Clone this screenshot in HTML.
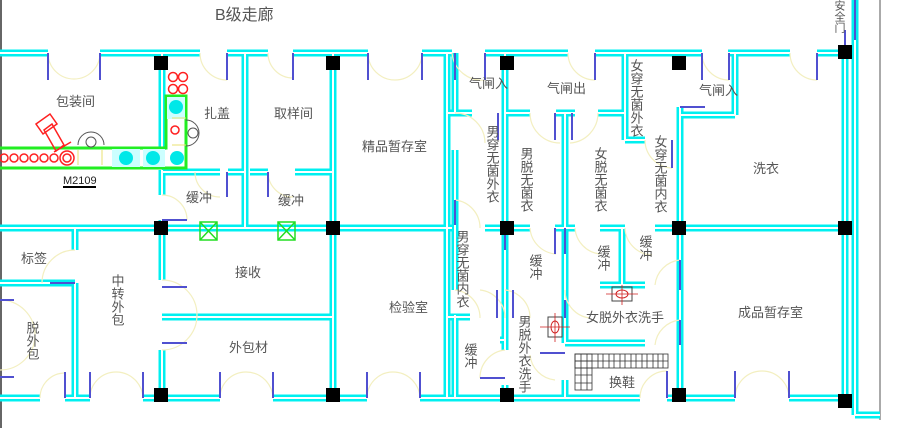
<!DOCTYPE html>
<html><head><meta charset="utf-8"><style>
html,body{margin:0;padding:0;background:#fff;}
svg{display:block;}
text{font-family:"Liberation Sans","Noto Sans CJK SC",sans-serif;fill:#555;font-size:13px;}
.v{writing-mode:tb;}
</style></head><body>
<svg width="900" height="428" viewBox="0 0 900 428" xmlns="http://www.w3.org/2000/svg">
<defs>
<g id="W" fill="none">
<path d="M0 53H48 M100 53H200 M227 53H268 M293 53H368 M422 53H452 M485 53H568 M595 53H702 M728 53H790 M817 53H840"/>
<path d="M0 228H452 M485 228H530 M555 228H575 M600 228H625 M655 228H850"/>
<path d="M0 398H40 M65 398H90 M143 398H220 M273 398H367 M420 398H640 M667 398H735 M789 398H850"/>
<path d="M162 53V150 M162 170V195 M162 220V280 M162 350V398"/>
<path d="M245 53V228 M333 53V398 M447 53V398 M455 53V113 M455 150V228 M455 228V290 M455 315V398"/>
<path d="M75 228V250 M75 283V398 M0 283H75"/>
<path d="M162 172H220 M228 172H245 M250 172H268 M295 172H333"/>
<path d="M162 317H333"/>
<path d="M447 113H472 M505 113H530 M556 113H575 M598 113H625"/>
<path d="M505 53V228 M505 228V350 M505 385V398"/>
<path d="M565 113V228 M565 228V343 M565 380V398 M565 343H645"/>
<path d="M625 53V140 M625 140H645 M622 228V285 M600 285H645"/>
<path d="M680 107V398 M680 115H735 M735 53V115"/>
<path d="M845 53V400 M855 0V415 M855 415H880"/>
<path d="M447 317H470 M500 340H505"/>
</g>
</defs>
<line x1="1" y1="0" x2="1" y2="428" stroke="#666" stroke-width="2"/>
<line x1="880" y1="0" x2="880" y2="420" stroke="#555" stroke-width="1"/>
<use href="#W" stroke="#00f0f0" stroke-width="7"/>
<use href="#W" stroke="#fff" stroke-width="2"/>
<g fill="none" stroke="#f3efc0" stroke-width="1.2">
<path d="M48 53A26 26 0 0 0 74 79A26 26 0 0 0 100 53"/>
<path d="M200 53A27 27 0 0 0 227 80"/>
<path d="M268 53A25 25 0 0 0 293 78"/>
<path d="M368 53A27 27 0 0 0 395 80A27 27 0 0 0 422 53"/>
<path d="M162 195A25 25 0 0 1 187 220"/>
<path d="M195 172A25 25 0 0 0 220 197"/>
<path d="M268 172A25 25 0 0 0 293 197"/>
<path d="M75 250A33 33 0 0 0 42 283"/>
<path d="M162 280A35 35 0 0 1 162 350"/>
<path d="M0 300A32 32 0 0 1 0 370"/>
<path d="M40 398A25 25 0 0 1 65 373"/>
<path d="M90 398A26 26 0 0 1 116 372A27 27 0 0 1 143 398"/>
<path d="M220 398A26 26 0 0 1 246 372A27 27 0 0 1 273 398"/>
<path d="M367 398A26 26 0 0 1 393 372A27 27 0 0 1 420 398"/>
<path d="M452 53A30 30 0 0 0 485 80"/>
<path d="M568 53A27 27 0 0 0 595 80"/>
<path d="M702 53A27 27 0 0 0 729 80"/>
<path d="M790 53A27 27 0 0 0 817 80"/>
<path d="M455 113A30 30 0 0 1 485 143"/>
<path d="M530 113A30 30 0 0 0 560 143 M570 143A30 30 0 0 0 598 113"/>
<path d="M455 200A28 28 0 0 1 480 228"/>
<path d="M645 140A28 28 0 0 0 672 168"/>
<path d="M530 228A28 28 0 0 0 556 254 M575 228A28 28 0 0 0 600 254"/>
<path d="M625 228A28 28 0 0 0 652 255"/>
<path d="M455 290A28 28 0 0 1 480 318"/>
<path d="M480 290A28 28 0 0 1 505 318 M505 290A28 28 0 0 1 530 318"/>
<path d="M565 290A28 28 0 0 0 590 318"/>
<path d="M680 260A28 28 0 0 0 655 285"/>
<path d="M680 320A28 28 0 0 0 655 345"/>
<path d="M505 350A28 28 0 0 0 480 378"/>
<path d="M530 355A28 28 0 0 0 555 380"/>
<path d="M640 398A27 27 0 0 1 667 371"/>
<path d="M735 398A27 27 0 0 1 762 371A27 27 0 0 1 789 398"/>
</g>
<g stroke="#5050d0" stroke-width="2">
<path d="M48 53V80 M100 53V80 M227 53V80 M293 53V80 M368 53V80 M422 53V80"/>
<path d="M227 172V197 M268 172V197 M162 220H187 M0 300H14 M0 377H14 M50 283H75"/>
<path d="M65 398V372 M90 398V372 M143 398V372 M220 398V372 M273 398V372 M367 398V372 M420 398V372"/>
<path d="M162 287H187 M162 343H187"/>
<path d="M455 53V80 M485 53V80 M595 53V80 M702 53V80 M729 53V80 M817 53V80 M845 30V53"/>
<path d="M498 113V140 M555 113V140 M572 113V140 M680 107H705 M672 140V168"/>
<path d="M455 200V225 M505 228V250 M555 228V254 M565 228V254 M680 260V290 M680 320V345"/>
<path d="M497 290V318 M513 290V318 M565 300V318 M480 378H505 M540 353H565 M667 371V398 M735 371V398 M789 371V398 M855 0V40"/>
</g>
<g fill="#000">
<rect x="154" y="56" width="14" height="14"/><rect x="326" y="56" width="14" height="14"/>
<rect x="500" y="56" width="14" height="14"/><rect x="672" y="56" width="14" height="14"/>
<rect x="838" y="45" width="14" height="14"/>
<rect x="154" y="221" width="14" height="14"/><rect x="326" y="221" width="14" height="14"/>
<rect x="500" y="221" width="14" height="14"/><rect x="672" y="221" width="14" height="14"/>
<rect x="838" y="221" width="14" height="14"/>
<rect x="154" y="388" width="14" height="14"/><rect x="326" y="388" width="14" height="14"/>
<rect x="500" y="388" width="14" height="14"/><rect x="672" y="388" width="14" height="14"/>
<rect x="838" y="394" width="14" height="14"/>
</g>
<g fill="none" stroke="#22dd22" stroke-width="1.5">
<rect x="200" y="222" width="17" height="18"/><path d="M200 222L217 240M217 222L200 240"/>
<rect x="278" y="222" width="17" height="18"/><path d="M278 222L295 240M295 222L278 240"/>
</g>
<g fill="none" stroke="#22ee22" stroke-width="3">
<path d="M0 148H166V96H186V168H0"/>
</g>
<g fill="#00e8e8">
<rect x="112" y="149" width="28" height="18" fill="#ccffff"/>
<rect x="143" y="149" width="22" height="18" fill="#ccffff"/>
<rect x="167" y="97" width="18" height="22" fill="#ccffff"/>
<circle cx="126" cy="158" r="7"/><circle cx="153" cy="158" r="7"/><circle cx="177" cy="158" r="7"/><circle cx="176" cy="107" r="7"/>
</g>
<g fill="none" stroke="#ff2020" stroke-width="1.5">
<circle cx="4" cy="158" r="4"/><circle cx="14" cy="158" r="4"/><circle cx="24" cy="158" r="4"/><circle cx="34" cy="158" r="4"/><circle cx="44" cy="158" r="4"/><circle cx="54" cy="158" r="4"/>
<circle cx="67" cy="158" r="7"/><circle cx="67" cy="158" r="4"/>
<circle cx="175" cy="130" r="4"/>
<circle cx="173" cy="77" r="4.5"/><circle cx="183" cy="77" r="4.5"/><circle cx="173" cy="89" r="4.5"/><circle cx="183" cy="89" r="4.5"/>
<path d="M36 124L50 114L57 124L43 134Z M44 130L52 124L64 145L56 151Z M54 152L71 142"/>
</g>
<g fill="none" stroke="#555" stroke-width="1">
<path d="M78 145A13 13 0 0 1 104 145"/><circle cx="91" cy="142" r="5"/>
<path d="M186 120A13 13 0 0 1 186 146"/><circle cx="193" cy="133" r="5"/>
</g>
<g fill="none" stroke="#e8e070" stroke-width="1"><path d="M78 150V165 M102 150V165 M172 118H186 M172 145H186"/></g>
<g fill="none">
<rect x="612" y="287" width="20" height="14" stroke="#444"/>
<ellipse cx="622" cy="294" rx="6" ry="4" stroke="#d02020"/>
<path d="M606 294H638 M622 285V305" stroke="#d02020" stroke-width=".8"/>
<rect x="548" y="317" width="14" height="20" stroke="#444"/>
<ellipse cx="555" cy="327" rx="4" ry="6" stroke="#d02020"/>
<path d="M540 327H570 M555 313V342" stroke="#d02020" stroke-width=".8"/>
</g>
<g stroke="#333" stroke-width=".8" fill="none">
<rect x="575" y="354" width="93" height="14"/>
<rect x="575" y="354" width="17" height="36"/>
<path d="M581 354V390M587 354V390M575 361H592M575 375H592M575 383H592M575 368H592"/>
<path d="M598 354V368M603 354V368M609 354V368M614 354V368M620 354V368M625 354V368M631 354V368M636 354V368M642 354V368M647 354V368M653 354V368M658 354V368M663 354V368M575 361H668"/>
</g>
<text x="215" y="20" style="font-size:16px">B级走廊</text>
<text class="v" x="839" y="0" style="font-size:11px">安全门</text>
<text x="56" y="106">包装间</text>
<text x="204" y="118">扎盖</text>
<text x="274" y="118">取样间</text>
<text x="362" y="151">精品暂存室</text>
<text x="63" y="184" style="font-size:11px;fill:#222">M2109</text>
<line x1="63" y1="187" x2="96" y2="187" stroke="#000" stroke-width="2"/>
<text x="186" y="202">缓冲</text>
<text x="278" y="205">缓冲</text>
<text x="21" y="263">标签</text>
<text class="v" x="117" y="274">中转外包</text>
<text class="v" x="32" y="321">脱外包</text>
<text x="235" y="277">接收</text>
<text x="229" y="352">外包材</text>
<text x="389" y="312">检验室</text>
<text x="469" y="88">气闸入</text>
<text x="547" y="93">气闸出</text>
<text class="v" x="636" y="59">女穿无菌外衣</text>
<text x="699" y="95">气闸入</text>
<text class="v" x="492" y="125">男穿无菌外衣</text>
<text class="v" x="526" y="147">男脱无菌衣</text>
<text class="v" x="600" y="147">女脱无菌衣</text>
<text class="v" x="660" y="135">女穿无菌内衣</text>
<text x="753" y="173">洗衣</text>
<text class="v" x="462" y="230">男穿无菌内衣</text>
<text class="v" x="535" y="254">缓冲</text>
<text class="v" x="603" y="245">缓冲</text>
<text class="v" x="645" y="235">缓冲</text>
<text x="586" y="322">女脱外衣洗手</text>
<text class="v" x="524" y="315">男脱外衣洗手</text>
<text class="v" x="470" y="343">缓冲</text>
<text x="609" y="387">换鞋</text>
<text x="738" y="317">成品暂存室</text>
</svg>
</body></html>
